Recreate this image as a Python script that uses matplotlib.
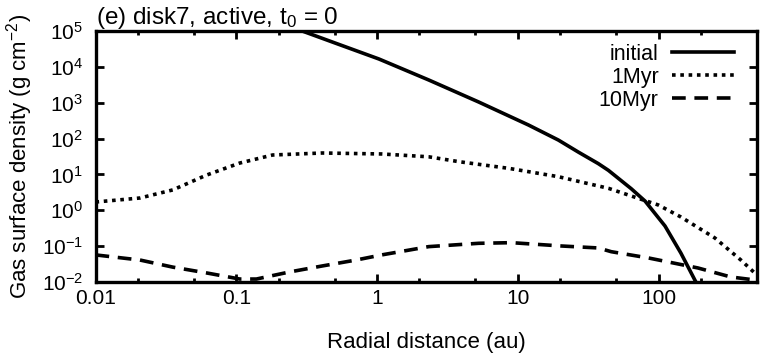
import matplotlib
matplotlib.use("Agg")
import matplotlib.pyplot as plt
from matplotlib.ticker import LogLocator, NullLocator, FixedFormatter, LogFormatterMathtext

# Data (r in au, Sigma in g cm^-2)
r_initial = [0.25, 0.294, 0.505, 1.03, 2.33, 5.27, 11.9, 19.4, 26.9, 37.3, 44, 63.9, 80.2, 99.3, 111, 144, 184, 190]
sig_initial = [1.3e5, 1.0e5, 4.6e4, 1.66e4, 4300, 1047, 239, 91, 42, 20, 13, 4.0, 1.8, 0.63, 0.365, 0.064, 0.01, 0.008]

r_1myr = [0.01, 0.0207, 0.0354, 0.0615, 0.106, 0.181, 0.408, 1.08, 2.33, 3.81, 8.6, 19.4, 44, 71.6, 99.3, 144, 251, 384, 482, 500]
sig_1myr = [1.70, 2.2, 3.7, 9.6, 20.8, 34.8, 39.6, 37.2, 31.0, 22.7, 14.8, 8.65, 4.1, 2.16, 1.41, 0.65, 0.169, 0.041, 0.0178, 0.016]

r_10myr = [0.01, 0.0207, 0.0354, 0.0615, 0.106, 0.139, 0.238, 0.408, 0.71, 1.08, 2.33, 5.27, 9.03, 20.4, 37.3, 46.1, 84.3, 190.5, 326, 482, 500]
sig_10myr = [0.057, 0.041, 0.026, 0.0179, 0.0121, 0.0121, 0.019, 0.028, 0.041, 0.057, 0.097, 0.12, 0.125, 0.101, 0.089, 0.070, 0.047, 0.0246, 0.0138, 0.0114, 0.0112]

series_labels = ["initial", "1Myr", "10Myr"]
x_ticks = [0.01, 0.1, 1, 10, 100]
x_tick_labels = ["0.01", "0.1", "1", "10", "100"]

plt.rcParams['font.family'] = ['Liberation Sans', 'DejaVu Sans']
plt.rcParams['mathtext.fontset'] = 'custom'
plt.rcParams['mathtext.rm'] = 'Liberation Sans'
plt.rcParams['mathtext.it'] = 'Liberation Sans:italic'
plt.rcParams['mathtext.bf'] = 'Liberation Sans:bold'
plt.rcParams['axes.unicode_minus'] = False

fig = plt.figure(figsize=(7.61, 3.57), dpi=100)
ax = fig.add_axes([95.5 / 761, 1 - 282 / 357, (757 - 95.5) / 761, (282 - 31) / 357])

lw = 2.6
ax.plot(r_initial, sig_initial, color='black', lw=lw, ls='-', label=series_labels[0])
ax.plot(r_1myr, sig_1myr, color='black', lw=lw, ls=(0, (1.0, 1.3)), label=series_labels[1])
ax.plot(r_10myr, sig_10myr, color='black', lw=lw, ls=(0, (3.8, 2.4)), label=series_labels[2])

ax.set_xscale('log')
ax.set_yscale('log')
ax.set_xlim(0.01, 500)
ax.set_ylim(1e-2, 1e5)

ax.xaxis.set_major_locator(LogLocator(base=10, numticks=20))
ax.xaxis.set_minor_locator(LogLocator(base=10, subs=(2, 5), numticks=20))
ax.set_xticks(x_ticks)
ax.xaxis.set_major_formatter(FixedFormatter(x_tick_labels))
ax.yaxis.set_major_locator(LogLocator(base=10, numticks=20))
ax.yaxis.set_minor_locator(NullLocator())
ax.yaxis.set_major_formatter(LogFormatterMathtext())

ax.tick_params(which='both', direction='in', top=True, right=True, width=2, labelsize=15)
ax.tick_params(which='major', length=6)
ax.tick_params(which='minor', length=3)
ax.tick_params(axis='x', pad=5)
ax.tick_params(axis='y', pad=9)
for sp in ax.spines.values():
    sp.set_linewidth(2.4)

ax.set_xlabel("Radial distance (au)", fontsize=16, labelpad=17)
ax.set_ylabel("Gas surface density (g cm$^{-2}$)", fontsize=16, labelpad=5)
ax.set_title("(e) disk7, active, t$_0$ = 0", loc='left', fontsize=17.5, pad=2.5)

ax.legend(loc='upper right', frameon=False, markerfirst=False, fontsize=15.5,
          handlelength=2.9, handletextpad=0.6, labelspacing=0.1,
          borderaxespad=0.3, bbox_to_anchor=(0.988, 1.01))

fig.savefig("out.png", dpi=100)
